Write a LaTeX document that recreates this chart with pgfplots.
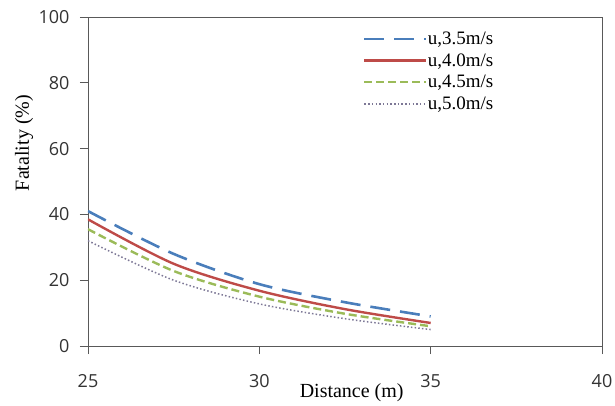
\documentclass[border=0pt]{standalone}
\usepackage{fontspec}
\setmainfont{Liberation Serif}
\newfontfamily\tickfont{Open Sans}
\usepackage{pgfplots}
\pgfplotsset{compat=1.18}
\definecolor{c1}{RGB}{74,126,187}
\definecolor{c2}{RGB}{190,75,72}
\definecolor{c3}{RGB}{155,187,89}
\definecolor{c4}{RGB}{125,120,150}
\begin{document}
\begin{tikzpicture}
\useasboundingbox (-88pt,-59pt) rectangle (527pt,346pt);
\begin{axis}[
  at={(0,0)}, anchor=south west,
  scale only axis, width=514pt, height=329pt,
  xmin=25, xmax=40, ymin=0, ymax=100,
  xtick={25,30,35,40}, ytick={0,20,...,100},
  axis line style={gray!70!black, line width=0.9pt},
  tick style={gray!70!black, line width=0.8pt},
  tick align=outside, major tick length=8pt,
  xtick pos=bottom, ytick pos=left,
  /pgf/number format/assume math mode=true,
  tick label style={font=\tickfont\fontsize{18}{20}\selectfont, text=black!80},
  xticklabel style={yshift=-17pt},
  yticklabel style={xshift=-7pt},
  xlabel={Distance (m)}, ylabel={Fatality (\%)},
  label style={font=\fontsize{20}{22}\selectfont},
  xlabel style={at={(axis description cs:0.513,0)}, anchor=center, yshift=-47pt},
  ylabel style={at={(axis description cs:0,0.617)}, anchor=center, yshift=64pt},
  legend style={draw=none, fill=none, at={(axis description cs:0.535,0.955)}, anchor=north west,
    font=\fontsize{19}{20}\selectfont, row sep=7.5pt, inner sep=0pt,
    nodes={inner sep=0pt}},
  legend cell align=left,
  legend image code/.code={\draw[#1] (0pt,0pt) -- (62pt,0pt);},
]
\addplot[c1, line width=2.6pt, dash pattern=on 20pt off 10pt, smooth] coordinates {(25,41) (27.5,28) (30,18.8) (32.5,13.3) (35,9)};
\addlegendentry{u,3.5m/s}
\addplot[c2, line width=2.4pt, smooth] coordinates {(25,38.5) (27.5,25) (30,16.8) (32.5,11.2) (35,7)};
\addlegendentry{u,4.0m/s}
\addplot[c3, line width=2.4pt, dash pattern=on 8pt off 4pt, smooth] coordinates {(25,35.5) (27.5,22.8) (30,15) (32.5,9.8) (35,6)};
\addlegendentry{u,4.5m/s}
\addplot[c4, line width=1.5pt, dash pattern=on 1.5pt off 2.2pt, smooth] coordinates {(25,32) (27.5,20) (30,12.8) (32.5,8.3) (35,5)};
\addlegendentry{u,5.0m/s}
\end{axis}
\end{tikzpicture}
\end{document}
